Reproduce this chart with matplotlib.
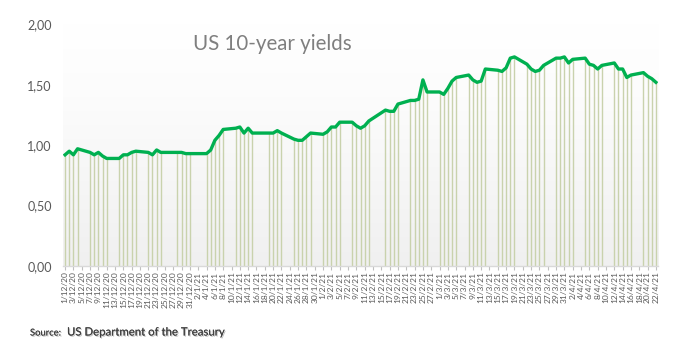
import numpy as np
import pandas as pd
import matplotlib
matplotlib.use('Agg')
from matplotlib import pyplot as plt
from matplotlib import patheffects as pe
from matplotlib.colors import LinearSegmentedColormap

plt.rcParams['font.family'] = ['Lato', 'DejaVu Sans']

# US treasury business days, 1 Dec 2020 - 22 Apr 2021
holidays = ['2020-12-25', '2021-01-01', '2021-01-18', '2021-02-15']
dates = pd.bdate_range('2020-12-01', '2021-04-22', freq='C', holidays=holidays)

yields = [
    # Dec 2020
    0.92, 0.95, 0.92, 0.97,
    0.94, 0.92, 0.94, 0.91, 0.89,
    0.89, 0.92, 0.92, 0.94, 0.95,
    0.94, 0.92, 0.96, 0.94,
    0.94, 0.94, 0.93, 0.93,
    # Jan 2021
    0.93, 0.96, 1.04, 1.08, 1.13,
    1.14, 1.15, 1.10, 1.14, 1.10,
    1.10, 1.10, 1.12, 1.10,
    1.05, 1.04, 1.04, 1.07, 1.10,
    # Feb 2021
    1.09, 1.11, 1.15, 1.15, 1.19,
    1.19, 1.16, 1.14, 1.16, 1.20,
    1.29, 1.28, 1.28, 1.34,
    1.37, 1.37, 1.38, 1.54, 1.44,
    # Mar 2021
    1.44, 1.42, 1.47, 1.53, 1.56,
    1.58, 1.54, 1.52, 1.53, 1.63,
    1.62, 1.61, 1.64, 1.72, 1.73,
    1.67, 1.63, 1.61, 1.62, 1.66,
    1.72, 1.72, 1.73,
    # Apr 2021
    1.68, 1.71,
    1.72, 1.67, 1.66, 1.63, 1.66,
    1.68, 1.63, 1.63, 1.56, 1.58,
    1.60, 1.57, 1.55, 1.52,
]

start = pd.Timestamp('2020-12-01')
end = pd.Timestamp('2021-04-22')
x = (dates - start).days.values
y = np.array(yields)

tick_days = pd.date_range(start, end, freq='2D')
tick_pos = (tick_days - start).days.values
tick_labels = ['{}/{}/{}'.format(d.day, d.month, d.strftime('%y')) for d in tick_days]
y_ticks = [0, 0.5, 1.0, 1.5, 2.0]

fig = plt.figure(figsize=(6.75, 3.59), dpi=100)
ax = fig.add_axes([63 / 675, 93 / 359, 595 / 675, 241.7 / 359])

# plot-area gradient
grad = np.linspace(0, 1, 256).reshape(-1, 1)
cmap = LinearSegmentedColormap.from_list('bg', [(0, '#ffffff'), (0.3, '#fcfcfc'), (1, '#f0f0f0')])
ax.imshow(grad, extent=[0, 1, 0, 1], transform=ax.transAxes, cmap=cmap,
          aspect='auto', zorder=0)

ax.vlines(x, 0, y, colors='#c9d2ad', linewidth=1.0, zorder=1)
ax.plot(x, y, color='#00b050', linewidth=2.4, solid_joinstyle='round', zorder=2)

ax.set_xlim(-0.5, (end - start).days + 0.5)
ax.set_ylim(0, 2)

ax.set_xticks(tick_pos)
ax.set_xticklabels(tick_labels, rotation=90, fontsize=6, color='#595959')
ax.tick_params(axis='x', length=3, color='#bfbfbf', pad=1)

ax.set_yticks(y_ticks)
ax.set_yticklabels(['{:.2f}'.format(v).replace('.', ',') for v in y_ticks],
                   fontsize=9, color='#595959')
ax.tick_params(axis='y', length=0, pad=8)

for s in ['top', 'right', 'left']:
    ax.spines[s].set_visible(False)
ax.spines['bottom'].set_color('#d9d9d9')
ax.spines['bottom'].set_linewidth(1)

fig.text(193 / 675, 1 - 44 / 359, 'US 10-year yields', fontsize=14.8, color='#7f7f7f', va='center')

shadow = [pe.withSimplePatchShadow(offset=(0.8, -0.8), shadow_rgbFace='#000000', alpha=0.25), pe.Normal()]
fig.text(30 / 675, 1 - 333 / 359, 'Source:', fontsize=6.8, color='#404040', va='center',
         path_effects=shadow)
fig.text(67 / 675, 1 - 332 / 359, 'US Department of the Treasury', fontsize=8.2, color='#404040',
         va='center', path_effects=shadow)

fig.savefig('out.png', dpi=100)
